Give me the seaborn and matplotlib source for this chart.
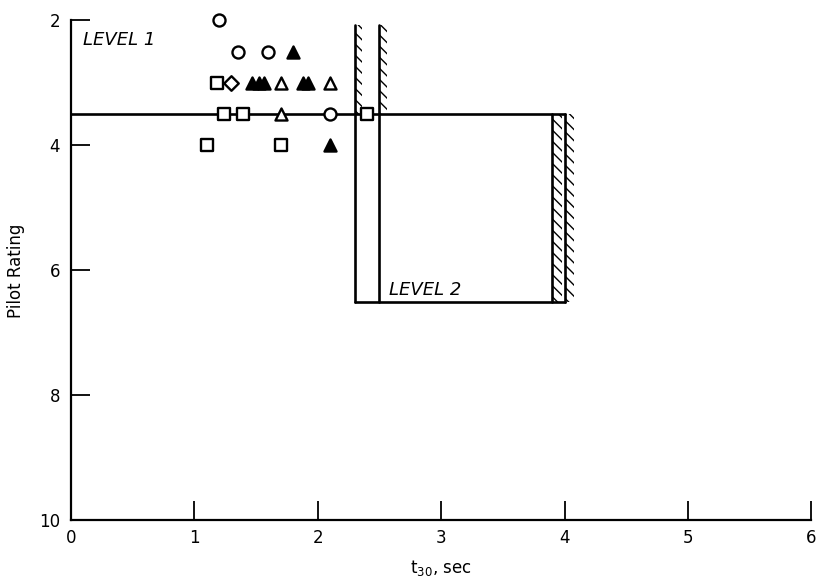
import seaborn as sns
import matplotlib.pyplot as plt
import matplotlib.patches as mpatches
import pandas as pd

# pilot rating data, grouped by symbol
circle_x = [1.2, 1.35, 1.6, 2.1]
circle_y = [2.0, 2.5, 2.5, 3.5]
square_x = [1.18, 1.24, 1.39, 2.4, 1.1, 1.7]
square_y = [3.0, 3.5, 3.5, 3.5, 4.0, 4.0]
diamond_x = [1.3]
diamond_y = [3.0]
tri_filled_x = [1.8, 1.47, 1.52, 1.56, 1.88, 1.92, 2.1]
tri_filled_y = [2.5, 3.0, 3.0, 3.0, 3.0, 3.0, 4.0]
tri_open_x = [1.7, 2.1, 1.7]
tri_open_y = [3.0, 3.0, 3.5]

# level boundaries
level1_rating = 3.5
level1_x_end = 4.0
level2_rating = 6.5
t30_bounds_l1 = [2.3, 2.5]      # boundaries hatched above level 1 line
t30_bounds_l2 = [3.9, 4.0]      # boundaries hatched below level 1 line
bound_top = 2.08

sns.set_style("ticks")
plt.rcParams['font.family'] = ['DejaVu Sans']
plt.rcParams['text.color'] = 'black'
plt.rcParams['axes.labelcolor'] = 'black'
plt.rcParams['xtick.color'] = 'black'
plt.rcParams['ytick.color'] = 'black'
plt.rcParams['axes.edgecolor'] = 'black'

fig = plt.figure(figsize=(8.17, 5.82), dpi=100)
ax = fig.add_axes([0.087, 0.106, 0.906, 0.859])

groups = [
    (circle_x, circle_y, 'o', 'white'),
    (square_x, square_y, 's', 'white'),
    (diamond_x, diamond_y, 'D', 'white'),
    (tri_filled_x, tri_filled_y, '^', 'black'),
    (tri_open_x, tri_open_y, '^', 'white'),
]
for xs, ys, m, fc in groups:
    df = pd.DataFrame({'t30': xs, 'rating': ys})
    size = 55 if m == 'D' else 75
    sns.scatterplot(data=df, x='t30', y='rating', marker=m, s=size,
                    facecolor=fc, edgecolor='black', linewidth=1.7,
                    zorder=5, clip_on=False, ax=ax, legend=False)

lw = 1.9
# level 1 line
ax.plot([0, level1_x_end], [level1_rating, level1_rating], color='black', lw=lw, zorder=2)
# vertical boundaries 2.3 / 2.5
for xb in t30_bounds_l1:
    ax.plot([xb, xb], [bound_top, level2_rating], color='black', lw=lw, zorder=2)
    ax.add_patch(mpatches.Rectangle((xb, bound_top), 0.06, level1_rating - bound_top,
                                    fill=False, hatch='\\\\\\', lw=0, color='black', zorder=1))
# vertical boundaries 3.9 / 4.0
for xb in t30_bounds_l2:
    ax.plot([xb, xb], [level1_rating, level2_rating], color='black', lw=lw, zorder=2)
    ax.add_patch(mpatches.Rectangle((xb, level1_rating), 0.08, level2_rating - level1_rating,
                                    fill=False, hatch='\\\\\\', lw=0, color='black', zorder=1))
# level 2 bottom
ax.plot([t30_bounds_l1[0], t30_bounds_l2[1]], [level2_rating, level2_rating],
        color='black', lw=lw, zorder=2)

ax.text(0.1, 2.32, 'LEVEL 1', fontsize=13, style='italic', va='center', ha='left')
ax.text(2.58, 6.32, 'LEVEL 2', fontsize=13, style='italic', va='center', ha='left')

ax.set_xlim(0, 6)
ax.set_ylim(10, 2)
ax.set_xticks([0, 1, 2, 3, 4, 5, 6])
ax.set_yticks([2, 4, 6, 8, 10])
ax.tick_params(direction='in', length=14, width=1.3, labelsize=12, pad=6)
ax.tick_params(axis='y', pad=8)
sns.despine(ax=ax)
for sp in ['left', 'bottom']:
    ax.spines[sp].set_linewidth(1.6)

ax.set_xlabel('t$_{30}$, sec', fontsize=12, labelpad=8)
ax.set_ylabel('Pilot Rating', fontsize=12, labelpad=10)

fig.savefig('out.png', dpi=100)
